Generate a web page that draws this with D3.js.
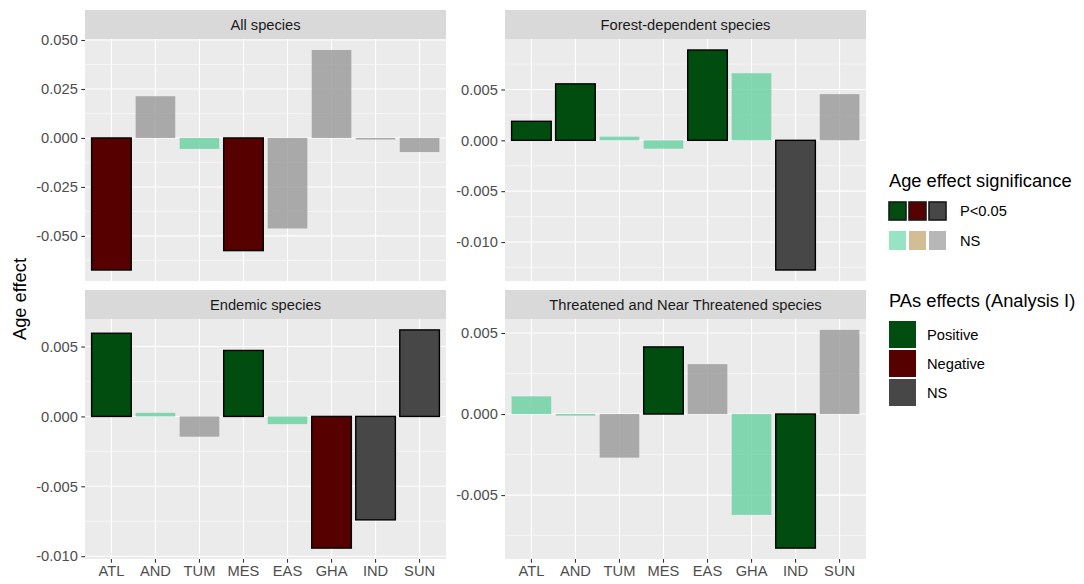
<!DOCTYPE html>
<html>
<head>
<meta charset="utf-8">
<script src="https://cdn.jsdelivr.net/npm/d3@7"></script>
<style>
  html, body { margin: 0; padding: 0; background: #ffffff; }
  svg { display: block; font-family: "Liberation Sans", Arial, sans-serif; }
</style>
</head>
<body>
<svg id="chart" width="1084" height="584"></svg>
<script>
// ---------------- data ----------------
const regions = ["ATL", "AND", "TUM", "MES", "EAS", "GHA", "IND", "SUN"];
const panelTitles = ["All species", "Forest-dependent species", "Endemic species", "Threatened and Near Threatened species"];

const allValues        = [-0.0674, 0.0213, -0.0056, -0.0575, -0.0462, 0.0449, -0.0008, -0.0072];
const forestValues     = [0.00187, 0.00555, 0.00036, -0.00082, 0.00888, 0.0066, -0.01275, 0.00454];
const endemicValues    = [0.00595, 0.00026, -0.00145, 0.00472, -0.00055, -0.00942, -0.0074, 0.00619];
const threatenedValues = [0.00109, -0.0001, -0.00269, 0.00414, 0.00308, -0.00622, -0.00827, 0.00519];

const allSig        = ["P<0.05", "NS", "NS", "P<0.05", "NS", "NS", "NS", "NS"];
const forestSig     = ["P<0.05", "P<0.05", "NS", "NS", "P<0.05", "NS", "P<0.05", "NS"];
const endemicSig    = ["P<0.05", "NS", "NS", "P<0.05", "NS", "P<0.05", "P<0.05", "P<0.05"];
const threatenedSig = ["NS", "NS", "NS", "P<0.05", "NS", "NS", "P<0.05", "NS"];

const allPA        = ["Negative", "NS", "Positive", "Negative", "NS", "NS", "NS", "NS"];
const forestPA     = ["Positive", "Positive", "Positive", "Positive", "Positive", "Positive", "NS", "NS"];
const endemicPA    = ["Positive", "Positive", "NS", "Positive", "Positive", "Negative", "NS", "NS"];
const threatenedPA = ["Positive", "Positive", "NS", "Positive", "NS", "Positive", "Positive", "NS"];

const allTicks        = [-0.050, -0.025, 0.000, 0.025, 0.050];
const forestTicks     = [-0.010, -0.005, 0.000, 0.005];
const endemicTicks    = [-0.010, -0.005, 0.000, 0.005];
const threatenedTicks = [-0.005, 0.000, 0.005];

const paLevels = ["Positive", "Negative", "NS"];
const sigLevels = ["P<0.05", "NS"];

// ---------------- styles ----------------
const darkColors  = { Positive: "#004d0f", Negative: "#570000", NS: "#474747" };
const lightColors = { Positive: "#6fd2a6", Negative: "#c9b083", NS: "#9d9d9d" };
const lightKeyColors = { Positive: "#97e3c3", Negative: "#d2bd96", NS: "#b7b7b7" };
const FS = 14.7, TFS = 18.3;

const panels = [
  { title: panelTitles[0], values: allValues, sig: allSig, pa: allPA, ticks: allTicks, x: 85, y: 39, w: 361, h: 242, stripY: 10, bottom: false },
  { title: panelTitles[1], values: forestValues, sig: forestSig, pa: forestPA, ticks: forestTicks, x: 505, y: 39, w: 361, h: 242, stripY: 10, bottom: false },
  { title: panelTitles[2], values: endemicValues, sig: endemicSig, pa: endemicPA, ticks: endemicTicks, x: 85, y: 319, w: 361, h: 240, stripY: 290, bottom: true },
  { title: panelTitles[3], values: threatenedValues, sig: threatenedSig, pa: threatenedPA, ticks: threatenedTicks, x: 505, y: 319, w: 361, h: 240, stripY: 290, bottom: true }
];

const svg = d3.select("#chart");
const loc = d3.formatLocale({ decimal: ".", thousands: ",", grouping: [3], currency: ["", ""], minus: "-" });
const fmt = loc.format(".3f");

panels.forEach(p => {
  const lo = Math.min(0, d3.min(p.values)), hi = Math.max(0, d3.max(p.values));
  const pad = (hi - lo) * 0.05;
  const y = d3.scaleLinear().domain([lo - pad, hi + pad]).range([p.h, 0]);
  const x = d3.scaleBand().domain(regions).range([0, p.w]).paddingInner(0.1).paddingOuter(0.15);

  const g = svg.append("g").attr("transform", `translate(${p.x},${p.y})`);
  // strip
  svg.append("rect").attr("x", p.x).attr("y", p.stripY).attr("width", p.w).attr("height", p.y - p.stripY).attr("fill", "#d9d9d9");
  svg.append("text").attr("x", p.x + p.w / 2).attr("y", (p.stripY + p.y) / 2).attr("dy", "0.35em")
    .attr("text-anchor", "middle").attr("font-size", FS).attr("fill", "#1a1a1a").text(p.title);

  // panel background
  g.append("rect").attr("width", p.w).attr("height", p.h).attr("fill", "#ebebeb");

  // minor grid
  const step = p.ticks[1] - p.ticks[0];
  const minor = [];
  for (let i = -1; i < p.ticks.length; i++) {
    const v = p.ticks[0] + (i + 0.5) * step;
    if (v >= y.domain()[0] && v <= y.domain()[1]) minor.push(v);
  }
  g.selectAll(".minor").data(minor).join("line")
    .attr("x1", 0).attr("x2", p.w).attr("y1", d => y(d)).attr("y2", d => y(d))
    .attr("stroke", "#ffffff").attr("stroke-width", 0.55);
  // major grid
  g.selectAll(".majory").data(p.ticks).join("line")
    .attr("x1", 0).attr("x2", p.w).attr("y1", d => y(d)).attr("y2", d => y(d))
    .attr("stroke", "#ffffff").attr("stroke-width", 1.1);
  g.selectAll(".majorx").data(regions).join("line")
    .attr("x1", d => x(d) + x.bandwidth() / 2).attr("x2", d => x(d) + x.bandwidth() / 2)
    .attr("y1", 0).attr("y2", p.h)
    .attr("stroke", "#ffffff").attr("stroke-width", 1.1);

  // bars
  const rows = regions.map((r, i) => ({ r, v: p.values[i], sig: p.sig[i], pa: p.pa[i] }));
  g.selectAll(".bar").data(rows).join("rect")
    .attr("x", d => x(d.r)).attr("width", x.bandwidth())
    .attr("y", d => y(Math.max(0, d.v))).attr("height", d => Math.abs(y(d.v) - y(0)))
    .attr("fill", d => d.sig === "P<0.05" ? darkColors[d.pa] : lightColors[d.pa])
    .attr("fill-opacity", d => d.sig === "P<0.05" ? 1 : 0.85)
    .attr("stroke", d => d.sig === "P<0.05" ? "#000000" : "none")
    .attr("stroke-width", 1.4);

  // y axis
  const ya = d3.axisLeft(y).tickValues(p.ticks).tickFormat(fmt).tickSize(3.7).tickPadding(3.5);
  const yg = g.append("g").call(ya);
  yg.select(".domain").remove();
  yg.selectAll("line").attr("stroke", "#333333").attr("stroke-width", 1.1);
  yg.selectAll("text").attr("font-size", FS).attr("fill", "#4d4d4d").attr("font-family", "Liberation Sans, Arial, sans-serif");

  if (p.bottom) {
    const xa = d3.axisBottom(x).tickSize(3.7).tickPadding(3);
    const xg = g.append("g").attr("transform", `translate(0,${p.h})`).call(xa);
    xg.select(".domain").remove();
    xg.selectAll("line").attr("stroke", "#333333").attr("stroke-width", 1.1);
    xg.selectAll("text").attr("font-size", FS).attr("fill", "#4d4d4d").attr("font-family", "Liberation Sans, Arial, sans-serif");
  }
});

// y axis title
svg.append("text").attr("transform", "translate(26,299) rotate(-90)")
  .attr("text-anchor", "middle").attr("font-size", TFS).attr("fill", "#000").text("Age effect");

// legend 1
svg.append("text").attr("x", 889).attr("y", 187).attr("font-size", TFS).attr("fill", "#000").text("Age effect significance");
const lg1 = svg.append("g");
sigLevels.forEach((s, row) => {
  const yy = 201 + row * 30;
  paLevels.forEach((pa, k) => {
    lg1.append("rect")
      .attr("x", 889 + k * 20).attr("y", yy + (s === "P<0.05" ? 1 : 0))
      .attr("width", 17).attr("height", s === "P<0.05" ? 18 : 19)
      .attr("fill", s === "P<0.05" ? darkColors[pa] : lightKeyColors[pa])
      .attr("stroke", s === "P<0.05" ? "#1a1a1a" : "none").attr("stroke-width", 1.6);
  });
  lg1.append("text").attr("x", 960).attr("y", yy + 10).attr("dy", "0.35em")
    .attr("font-size", FS).attr("fill", "#000").text(s);
});

// legend 2
svg.append("text").attr("x", 889).attr("y", 307).attr("font-size", TFS).attr("fill", "#000").text("PAs effects (Analysis I)");
paLevels.forEach((pa, i) => {
  const yy = 321 + i * 29;
  svg.append("rect").attr("x", 889).attr("y", yy).attr("width", 27).attr("height", 27).attr("fill", darkColors[pa]);
  svg.append("text").attr("x", 927).attr("y", yy + 13.5).attr("dy", "0.35em")
    .attr("font-size", FS).attr("fill", "#000").text(pa);
});
</script>
</body>
</html>
